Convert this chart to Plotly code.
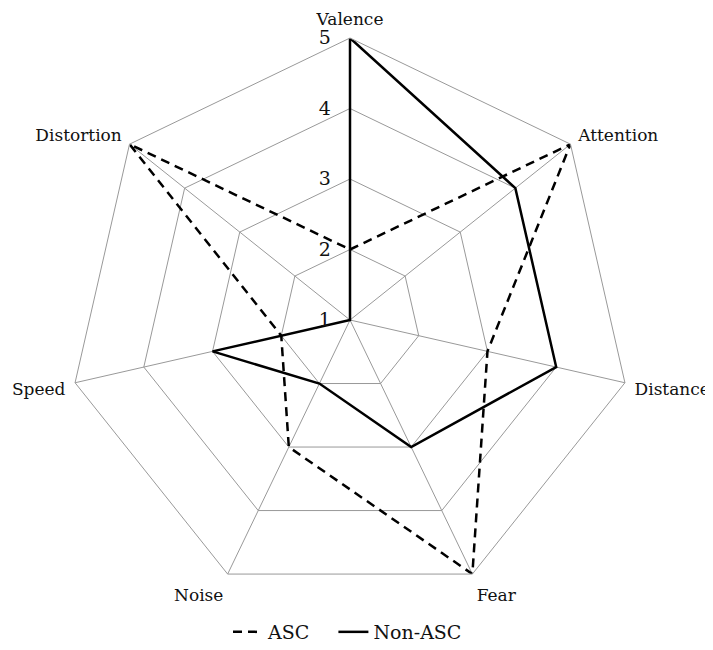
import plotly.graph_objects as go

categories = ["Valence", "Attention", "Distance", "Fear", "Noise", "Speed", "Distortion"]
asc_values = [2, 5, 3, 5, 3, 2, 5]
non_asc_values = [5, 4, 4, 3, 2, 3, 1]
radial_ticks = [1, 2, 3, 4, 5]
series_names = ["ASC", "Non-ASC"]

def closed(vals):
    return vals + vals[:1]

fig = go.Figure()
fig.add_trace(go.Scatterpolar(
    r=closed(asc_values), theta=closed(categories),
    name=series_names[0] + "\u00a0" * 3,
    mode="lines", line=dict(color="black", width=2.5, dash="9px,6px"),
))
fig.add_trace(go.Scatterpolar(
    r=closed(non_asc_values), theta=closed(categories), name=series_names[1],
    mode="lines", line=dict(color="black", width=2.5),
))

W, H = 713, 650
off = 8  # page body margin
cx, cy, R = 350 - off, 320 - off, 282
fig.update_layout(
    width=W, height=H,
    margin=dict(l=0, r=0, t=0, b=0),
    paper_bgcolor="white",
    font=dict(family="DejaVu Serif, Liberation Serif, serif", size=17, color="#111"),
    polar=dict(
        domain=dict(x=[(cx - R) / W, (cx + R) / W], y=[1 - (cy + R) / H, 1 - (cy - R) / H]),
        gridshape="linear",
        bgcolor="white",
        angularaxis=dict(
            direction="clockwise", rotation=90,
            showline=True, linecolor="#999", linewidth=1,
            gridcolor="#999", gridwidth=1,
            ticks="outside", ticklen=6, tickcolor="rgba(0,0,0,0)",
            tickfont=dict(size=17),
        ),
        radialaxis=dict(
            range=[1, 5], tickvals=radial_ticks, ticktext=[str(t) for t in radial_ticks],
            angle=90, tickangle=90, side="counterclockwise", showline=False,
            ticks="outside", ticklen=12, tickcolor="rgba(0,0,0,0)",
            gridcolor="#999", gridwidth=1,
            tickfont=dict(size=19),
        ),
    ),
    legend=dict(orientation="h", x=(228 - off) / W, xanchor="left",
                y=1 - (632 - off) / H, yanchor="middle",
                font=dict(size=19)),
)
fig.write_html("out.html")
